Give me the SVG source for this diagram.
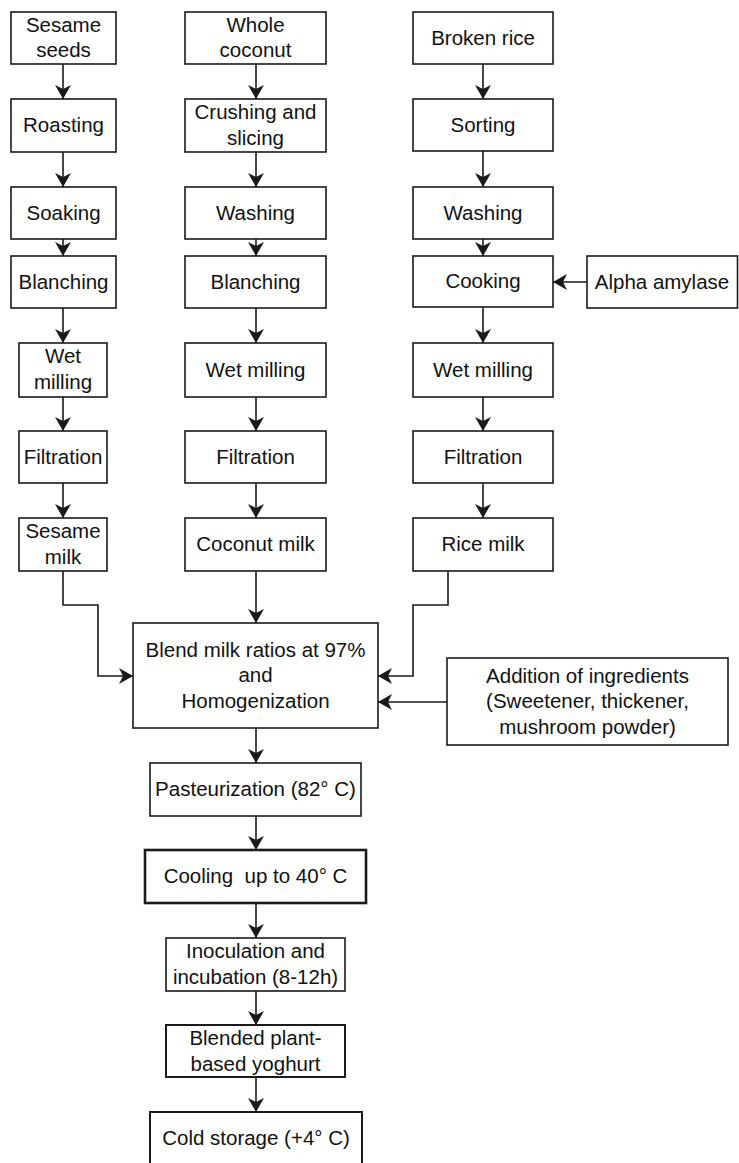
<svg xmlns="http://www.w3.org/2000/svg" width="739" height="1163" viewBox="0 0 739 1163">
<style>
.b{fill:#fff;stroke:#1a1a1a;stroke-width:1.6}
.t{stroke-width:2.6}
.m{stroke-width:2}
text{font-family:"Liberation Sans",Arial,sans-serif;font-size:20.5px;fill:#111;text-anchor:middle;white-space:pre}
.c{fill:none;stroke:#1a1a1a;stroke-width:1.6;marker-end:url(#a)}
</style>
<defs>
<marker id="a" markerUnits="userSpaceOnUse" viewBox="0 0 14 16" refX="14" refY="8" markerWidth="14" markerHeight="16" orient="auto">
<path d="M0,0 L14,8 L0,16 L4,8 Z" fill="#1a1a1a"/>
</marker>
</defs>
<rect width="739" height="1163" fill="#fff"/>
<g id="connectors">
<path class="c" d="M63,64 V99"/>
<path class="c" d="M63,152 V187"/>
<path class="c" d="M63,239 V256"/>
<path class="c" d="M63,308 V343"/>
<path class="c" d="M63,397 V431"/>
<path class="c" d="M63,483 V518"/>
<path class="c" d="M256,64 V99"/>
<path class="c" d="M256,152 V187"/>
<path class="c" d="M256,239 V256"/>
<path class="c" d="M256,308 V343"/>
<path class="c" d="M256,397 V431"/>
<path class="c" d="M256,483 V518"/>
<path class="c" d="M483,64 V99"/>
<path class="c" d="M483,151 V187"/>
<path class="c" d="M483,239 V256"/>
<path class="c" d="M483,307 V343"/>
<path class="c" d="M483,397 V431"/>
<path class="c" d="M483,483 V518"/>
<path class="c" d="M587,282 H553"/>
<path class="c" d="M63,571 V605 H98 V676 H133"/>
<path class="c" d="M256,571 V623"/>
<path class="c" d="M448,571 V605 H413 V676 H378"/>
<path class="c" d="M447,702 H378"/>
<path class="c" d="M256,728 V763"/>
<path class="c" d="M256,816 V850"/>
<path class="c" d="M256,903 V938"/>
<path class="c" d="M256,991 V1025"/>
<path class="c" d="M256,1077 V1112"/>
</g>
<g id="sesame-seeds"><rect class="b" x="11" y="12" width="105" height="52"/><text x="63.5" y="31.6">Sesame</text><text x="63.5" y="57">seeds</text></g>
<g id="roasting"><rect class="b" x="11" y="99" width="105" height="53"/><text x="63.5" y="132">Roasting</text></g>
<g id="soaking"><rect class="b" x="11" y="187" width="105" height="52"/><text x="63.5" y="219.5">Soaking</text></g>
<g id="blanching-1"><rect class="b" x="11" y="256" width="105" height="52"/><text x="63.5" y="288.5">Blanching</text></g>
<g id="wet-milling-1"><rect class="b" x="19" y="343" width="88" height="54"/><text x="63" y="363">Wet</text><text x="63" y="388.5">milling</text></g>
<g id="filtration-1"><rect class="b" x="19" y="431" width="88" height="52"/><text x="63" y="463.5">Filtration</text></g>
<g id="sesame-milk"><rect class="b" x="19" y="518" width="88" height="53"/><text x="63" y="538">Sesame</text><text x="63" y="563.5">milk</text></g>

<g id="whole-coconut"><rect class="b" x="185" y="12" width="141" height="52"/><text x="255.5" y="31.6">Whole</text><text x="255.5" y="57">coconut</text></g>
<g id="crushing"><rect class="b" x="185" y="99" width="141" height="53"/><text x="255.5" y="119">Crushing and</text><text x="255.5" y="144.5">slicing</text></g>
<g id="washing-1"><rect class="b" x="185" y="187" width="141" height="52"/><text x="255.5" y="219.5">Washing</text></g>
<g id="blanching-2"><rect class="b" x="185" y="256" width="141" height="52"/><text x="255.5" y="288.5">Blanching</text></g>
<g id="wet-milling-2"><rect class="b" x="185" y="343" width="141" height="54"/><text x="255.5" y="376.5">Wet milling</text></g>
<g id="filtration-2"><rect class="b" x="185" y="431" width="141" height="52"/><text x="255.5" y="463.5">Filtration</text></g>
<g id="coconut-milk"><rect class="b" x="185" y="518" width="141" height="53"/><text x="255.5" y="551">Coconut milk</text></g>

<g id="broken-rice"><rect class="b" x="413" y="12" width="140" height="52"/><text x="483" y="44.5">Broken rice</text></g>
<g id="sorting"><rect class="b" x="413" y="99" width="140" height="52"/><text x="483" y="131.5">Sorting</text></g>
<g id="washing-2"><rect class="b" x="413" y="187" width="140" height="52"/><text x="483" y="219.5">Washing</text></g>
<g id="cooking"><rect class="b" x="413" y="256" width="140" height="51"/><text x="483" y="288">Cooking</text></g>
<g id="alpha-amylase"><rect class="b" x="587" y="256" width="150.5" height="52"/><text x="662" y="288.5">Alpha amylase</text></g>
<g id="wet-milling-3"><rect class="b" x="413" y="343" width="140" height="54"/><text x="483" y="376.5">Wet milling</text></g>
<g id="filtration-3"><rect class="b" x="413" y="431" width="140" height="52"/><text x="483" y="463.5">Filtration</text></g>
<g id="rice-milk"><rect class="b" x="413" y="518" width="140" height="53"/><text x="483" y="551">Rice milk</text></g>

<g id="blend"><rect class="b" x="133" y="623" width="245" height="105"/><text x="255.5" y="657">Blend milk ratios at 97%</text><text x="255.5" y="682">and</text><text x="255.5" y="707.5">Homogenization</text></g>
<g id="addition"><rect class="b" x="447" y="658" width="281" height="87"/><text x="587.5" y="682.5">Addition of ingredients</text><text x="587.5" y="708">(Sweetener, thickener,</text><text x="587.5" y="733.5">mushroom powder)</text></g>
<g id="pasteurization"><rect class="b" x="150" y="763" width="211" height="53"/><text x="255.5" y="796">Pasteurization (82° C)</text></g>
<g id="cooling"><rect class="b t" x="145" y="850" width="221" height="53"/><text x="255.5" y="883">Cooling  up to 40° C</text></g>
<g id="inoculation"><rect class="b" x="166" y="938" width="179" height="53"/><text x="255.5" y="958">Inoculation and</text><text x="255.5" y="983.5">incubation (8-12h)</text></g>
<g id="yoghurt"><rect class="b m" x="166" y="1025" width="179" height="52"/><text x="255.5" y="1045">Blended plant-</text><text x="255.5" y="1070.5">based yoghurt</text></g>
<g id="cold-storage"><rect class="b m" x="150" y="1112" width="212" height="60"/><text x="256" y="1145">Cold storage (+4° C)</text></g>
</svg>
